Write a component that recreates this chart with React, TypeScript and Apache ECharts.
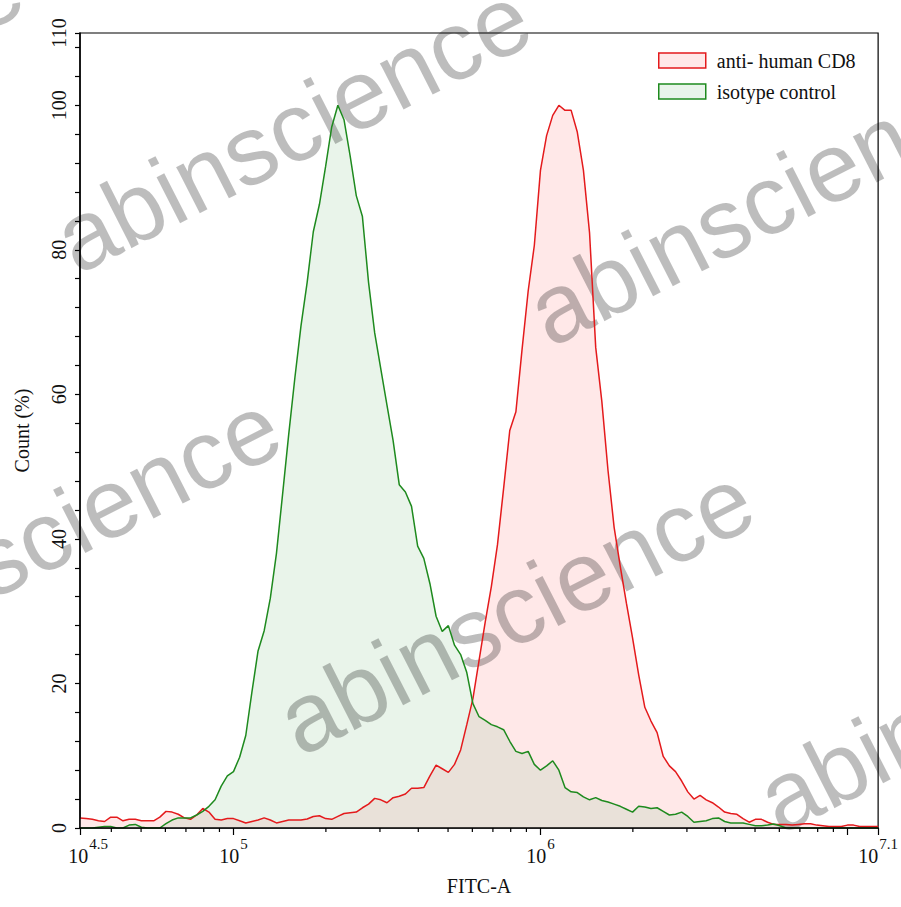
import React, { useEffect, useRef } from 'react';
import * as echarts from 'echarts';

// FITC-A bin positions, as log10 exponents
const fitcExponent = [
  4.50, 4.52, 4.54, 4.56, 4.58, 4.60, 4.62, 4.64, 4.66, 4.68,
  4.70, 4.72, 4.74, 4.76, 4.78, 4.80, 4.82, 4.84, 4.86, 4.88,
  4.90, 4.92, 4.94, 4.96, 4.98, 5.00, 5.02, 5.04, 5.06, 5.08,
  5.10, 5.12, 5.14, 5.16, 5.18, 5.20, 5.22, 5.24, 5.26, 5.28,
  5.30, 5.32, 5.34, 5.36, 5.38, 5.40, 5.42, 5.44, 5.46, 5.48,
  5.50, 5.52, 5.54, 5.56, 5.58, 5.60, 5.62, 5.64, 5.66, 5.68,
  5.70, 5.72, 5.74, 5.76, 5.78, 5.80, 5.82, 5.84, 5.86, 5.88,
  5.90, 5.92, 5.94, 5.96, 5.98, 6.00, 6.02, 6.04, 6.06, 6.08,
  6.10, 6.12, 6.14, 6.16, 6.18, 6.20, 6.22, 6.24, 6.26, 6.28,
  6.30, 6.32, 6.34, 6.36, 6.38, 6.40, 6.42, 6.44, 6.46, 6.48,
  6.50, 6.52, 6.54, 6.56, 6.58, 6.60, 6.62, 6.64, 6.66, 6.68,
  6.70, 6.72, 6.74, 6.76, 6.78, 6.80, 6.82, 6.84, 6.86, 6.88,
  6.90, 6.92, 6.94, 6.96, 6.98, 7.00, 7.02, 7.04, 7.06, 7.08,
  7.10,
];

// Count (%) — anti- human CD8
const antiCD8 = [
  1.4, 1.3, 1.2, 1.0, 0.9, 1.5, 1.5, 1.0, 1.2, 1.2,
  1.0, 1.0, 1.0, 1.5, 2.3, 2.2, 1.9, 1.4, 1.2, 1.8,
  2.7, 2.2, 1.2, 1.1, 1.3, 1.3, 1.0, 0.7, 0.9, 1.1,
  1.4, 1.1, 0.7, 0.9, 1.1, 1.1, 1.1, 1.25, 1.6, 1.7,
  1.3, 1.2, 1.6, 2.0, 2.1, 2.2, 2.8, 3.3, 4.1, 3.9,
  3.5, 4.2, 4.4, 4.7, 5.5, 5.5, 5.6, 7.2, 8.7, 8.2,
  7.7, 8.8, 10.8, 14.3, 17.9, 23.2, 28.5, 33.4, 39.2, 47.0,
  55.0, 57.6, 66.2, 74.3, 80.6, 91.0, 95.8, 98.6, 100, 99.3,
  99.3, 96.3, 91.0, 82.3, 66.5, 59.0, 49.5, 41.6, 36.2, 31.1,
  26.3, 21.2, 16.7, 14.8, 13.2, 9.9, 8.6, 7.8, 6.5, 5.0,
  4.0, 4.5, 3.9, 3.5, 2.9, 2.2, 2.0, 1.9, 1.3, 0.8,
  1.2, 1.2, 0.8, 0.5, 0.5, 0.5, 0.4, 0.5, 0.6, 0.6,
  0.4, 0.3, 0.2, 0.2, 0.2, 0.4, 0.4, 0.2, 0.2, 0.2,
  0.2,
];

// Count (%) — isotype control
const isotype = [
  0, 0, 0, 0.1, 0.2, 0.2, 0, 0, 0.4, 0.5,
  0.1, 0, 0, 0, 0.6, 1.1, 1.4, 1.4, 1.4, 1.8,
  2.3, 3.0, 3.9, 5.8, 7.2, 7.8, 9.8, 12.8, 18.8, 24.5,
  27.3, 31.8, 38.0, 46.2, 54.5, 62.3, 69.5, 75.5, 82.5, 86.3,
  91.5, 97.0, 100, 98.0, 93.0, 87.5, 84.6, 75.5, 68.5, 63.5,
  58.5, 53.6, 47.5, 46.5, 44.5, 39.0, 37.3, 33.8, 29.3, 27.2,
  28.0, 25.3, 24.0, 21.5, 17.2, 15.4, 14.9, 14.3, 14.0, 13.6,
  12.0, 10.6, 10.3, 10.6, 8.8, 8.0, 8.6, 9.3, 8.0, 5.6,
  5.0, 4.9, 4.3, 3.9, 4.2, 3.8, 3.6, 3.3, 3.0, 2.6,
  2.2, 3.0, 2.9, 2.7, 2.8, 2.3, 1.8, 1.9, 2.2, 1.6,
  0.8, 0.9, 1.0, 1.3, 1.4, 0.9, 0.7, 0.7, 0.7, 0.5,
  0.3, 0.3, 0.4, 0.55, 0.3, 0, 0, 0, 0, 0,
  0, 0, 0, 0, 0, 0, 0, 0, 0, 0,
  0,
];

const seriesNames = ['anti- human CD8', 'isotype control'];
const xMinorTicks = [
  4e4, 5e4, 6e4, 7e4, 8e4, 9e4,
  2e5, 3e5, 4e5, 5e5, 6e5, 7e5, 8e5, 9e5,
  2e6, 3e6, 4e6, 5e6, 6e6, 7e6, 8e6, 9e6,
];
const yLabelValues = [0, 20, 40, 60, 80, 100, 110];
const xMinExp = 4.5;
const xMaxExp = 7.1;
const watermarkText = 'abinscience';

const SERIF = 'Liberation Serif';
const RED = '#e41a1c';
const GREEN = '#1e8a1e';
const PINK_FILL = '#ffe8e8';
const GREEN_FILL = '#e9f4ea';
const OVERLAP_FILL = '#e9e1d9';

export default function App() {
  const ref = useRef<HTMLDivElement>(null);

  useEffect(() => {
    document.body.style.margin = '0';
    const chart = echarts.init(ref.current!, null, { renderer: 'svg' });

    const toPts = (ys: number[]) => fitcExponent.map((e, i) => [Math.pow(10, e), ys[i]]);
    const overlap = antiCD8.map((v, i) => Math.min(v, isotype[i]));

    const wmPositions = [
      [-424, 258],
      [84, 289],
      [557, 362],
      [-166, 698],
      [307, 771],
      [787, 849],
    ];
    const wmRot = (27 * Math.PI) / 180;

    const option: any = {
      animation: false,
      textStyle: { fontFamily: SERIF },
      grid: {
        left: 80,
        right: 21,
        top: 33,
        bottom: 79,
        show: true,
        borderColor: '#000',
        borderWidth: 1.2,
        backgroundColor: 'transparent',
      },
      legend: {
        orient: 'vertical',
        left: 658,
        top: 49.5,
        padding: 0,
        itemWidth: 47,
        itemHeight: 15,
        itemGap: 9,
        selectedMode: false,
        textStyle: { fontFamily: SERIF, fontSize: 20, color: '#111', lineHeight: 22, padding: [0, 0, 0, 6] },
        data: [
          { name: seriesNames[0], icon: 'rect', itemStyle: { color: PINK_FILL, borderColor: RED, borderWidth: 1.5 } },
          { name: seriesNames[1], icon: 'rect', itemStyle: { color: GREEN_FILL, borderColor: GREEN, borderWidth: 1.5 } },
        ],
      },
      xAxis: {
        type: 'log',
        logBase: 10,
        min: Math.pow(10, xMinExp),
        max: Math.pow(10, xMaxExp),
        z: 10,
        name: 'FITC-A',
        nameLocation: 'middle',
        nameGap: 48,
        nameTextStyle: { fontFamily: SERIF, fontSize: 20, color: '#111' },
        axisLine: { lineStyle: { color: '#000', width: 1.5 } },
        axisTick: { show: true, length: 7, lineStyle: { color: '#000', width: 1.2 } },
        minorTick: { show: false },
        splitLine: { show: false },
        minorSplitLine: { show: false },
        axisLabel: {
          showMinLabel: true,
          showMaxLabel: true,
          margin: 8,
          color: '#111',
          formatter: (value: number) => {
            const e = Math.log10(value);
            if (Math.abs(e - 7) < 1e-6) return '';
            const isInt = Math.abs(e - Math.round(e)) < 1e-6;
            const s = isInt ? String(Math.round(e)) : e.toFixed(1);
            const base = Math.abs(e - xMinExp) < 1e-6 ? 'b0' : 'b';
            return '{' + base + '|10}{s|' + s + '}';
          },
          rich: {
            b: { fontFamily: SERIF, fontSize: 20, color: '#111', verticalAlign: 'bottom' },
            b0: { fontFamily: SERIF, fontSize: 20, color: '#111', verticalAlign: 'bottom', padding: [0, 0, 0, 16] },
            s: { fontFamily: SERIF, fontSize: 15, color: '#111', verticalAlign: 'bottom', padding: [0, 0, 15, 1] },
          },
        },
      },
      yAxis: {
        type: 'value',
        min: 0,
        max: 110,
        interval: 4,
        z: 10,
        name: 'Count (%)',
        nameLocation: 'middle',
        nameRotate: 90,
        nameGap: 48,
        nameTextStyle: { fontFamily: SERIF, fontSize: 20, color: '#111' },
        axisLine: { show: true, lineStyle: { color: '#000', width: 1.5 } },
        axisTick: { show: true, length: 5, interval: 0, lineStyle: { color: '#000', width: 1.2 } },
        splitLine: { show: false },
        axisLabel: {
          rotate: 90,
          interval: 0,
          margin: 11,
          fontFamily: SERIF,
          fontSize: 20,
          color: '#111',
          formatter: (v: number) => (yLabelValues.indexOf(Math.round(v)) >= 0 && Math.abs(v - Math.round(v)) < 1e-6 ? String(Math.round(v)) : ''),
        },
      },
      graphic: wmPositions.map(([x, y]) => ({
        type: 'text',
        x,
        y,
        rotation: wmRot,
        z: 3,
        silent: true,
        style: {
          text: watermarkText,
          fontFamily: 'Liberation Sans',
          fontSize: 98,
          fill: 'rgba(0,0,0,0.26)',
          align: 'left',
          verticalAlign: 'bottom',
        },
      })),
      series: [
        {
          name: seriesNames[0],
          type: 'line',
          data: toPts(antiCD8),
          symbol: 'none',
          silent: true,
          z: 1,
          itemStyle: { color: PINK_FILL, borderColor: RED },
          lineStyle: { width: 0, opacity: 0 },
          areaStyle: { color: PINK_FILL, opacity: 1 },
        },
        {
          name: seriesNames[1],
          type: 'line',
          data: toPts(isotype),
          symbol: 'none',
          silent: true,
          z: 1,
          itemStyle: { color: GREEN_FILL, borderColor: GREEN },
          lineStyle: { width: 0, opacity: 0 },
          areaStyle: { color: GREEN_FILL, opacity: 1 },
        },
        {
          name: 'overlap',
          type: 'line',
          data: toPts(overlap),
          symbol: 'none',
          silent: true,
          z: 2,
          lineStyle: { width: 0, opacity: 0 },
          areaStyle: { color: OVERLAP_FILL, opacity: 1 },
        },
        {
          name: seriesNames[0] + ' line',
          type: 'line',
          data: toPts(antiCD8),
          symbol: 'none',
          silent: true,
          z: 5,
          lineStyle: { color: RED, width: 1.5 },
        },
        {
          name: seriesNames[1] + ' line',
          type: 'line',
          data: toPts(isotype),
          symbol: 'none',
          silent: true,
          z: 5,
          lineStyle: { color: GREEN, width: 1.5 },
        },
        {
          name: 'minor ticks',
          type: 'custom',
          coordinateSystem: 'cartesian2d',
          silent: true,
          z: 10,
          clip: false,
          encode: { x: 0, y: 1 },
          data: xMinorTicks.map((v) => [v, 0]),
          renderItem: (params: any, api: any) => {
            const p = api.coord([api.value(0), 0]);
            return {
              type: 'line',
              shape: { x1: p[0], y1: p[1], x2: p[0], y2: p[1] + 4 },
              style: { stroke: '#000', lineWidth: 1.2 },
            };
          },
        },
      ],
    };

    chart.setOption(option);
    return () => chart.dispose();
  }, []);

  return <div ref={ref} style={{ width: 901, height: 907 }} />;
}
